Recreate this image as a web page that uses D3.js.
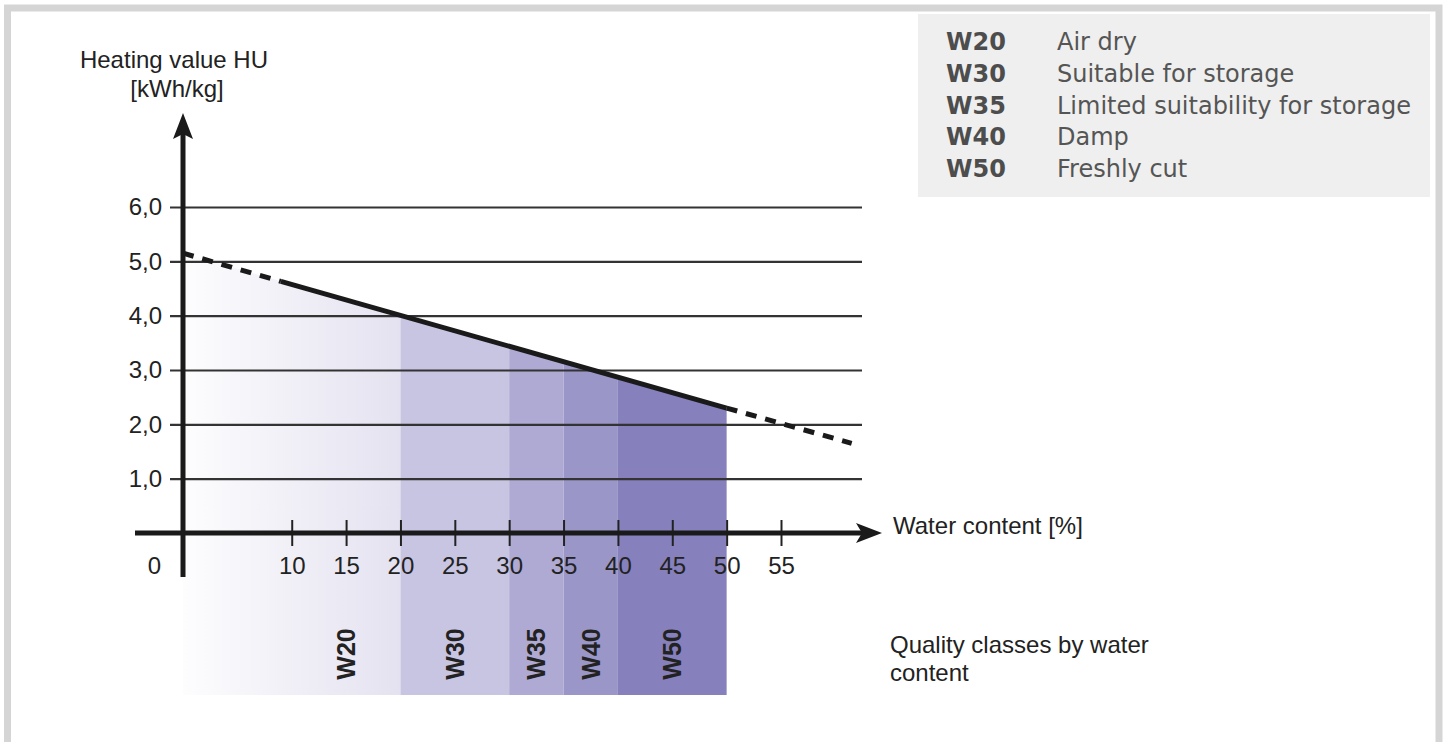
<!DOCTYPE html>
<html>
<head>
<meta charset="utf-8">
<script src="https://cdn.jsdelivr.net/npm/d3@7"></script>
<style>
  html, body { margin: 0; padding: 0; background: #fff; }
  svg { display: block; }
  .sans { font-family: "Liberation Sans", Arial, sans-serif; }
  .verd { font-family: "DejaVu Sans", Verdana, sans-serif; }
</style>
</head>
<body>
<svg id="chart" width="1447" height="742"></svg>
<script>
// quality classes by water content
const classNames = ["W20", "W30", "W35", "W40", "W50"];
const classFrom = [0, 20, 30, 35, 40];
const classTo = [20, 30, 35, 40, 50];
const classLabelAt = [15, 25, 32.5, 37.5, 45];
const classDesc = ["Air dry", "Suitable for storage", "Limited suitability for storage", "Damp", "Freshly cut"];

// heating value curve (water content % -> kWh/kg)
const curveWater = [0, 9, 50, 61.5];
const curveHeat = [5.15, 4.63, 2.3, 1.65];
const curveDashed = [true, false, true]; // per segment

const yTicks = [1, 2, 3, 4, 5, 6];
const xTicks = [0, 10, 15, 20, 25, 30, 35, 40, 45, 50, 55];

const classColors = ["#e4e2f0", "#c8c5e2", "#afaad3", "#9b96c8", "#8680bc"];

const svg = d3.select("#chart");

// frame
svg.append("path")
    .attr("d", "M7.5,742 V8 H1439 V742")
    .attr("fill", "none")
    .attr("stroke", "#d5d5d5")
    .attr("stroke-width", 7);

const x = d3.scaleLinear().domain([0, 55]).range([183, 781]);
const y = d3.scaleLinear().domain([0, 6]).range([533, 207]);
const heatAt = d3.scaleLinear().domain(curveWater).range(curveHeat);
const bandBottom = 695;

// gradient for W20
const defs = svg.append("defs");
const grad = defs.append("linearGradient").attr("id", "w20grad")
    .attr("x1", "0%").attr("x2", "100%").attr("y1", "0%").attr("y2", "0%");
grad.append("stop").attr("offset", "0%").attr("stop-color", "#fdfdfe");
grad.append("stop").attr("offset", "100%").attr("stop-color", classColors[0]);

// bands
svg.append("g").selectAll("path")
    .data(classNames)
    .join("path")
    .attr("d", (d, i) => {
        const a = classFrom[i], b = classTo[i];
        return `M${x(a)},${bandBottom} L${x(a)},${y(heatAt(a))} L${x(b)},${y(heatAt(b))} L${x(b)},${bandBottom} Z`;
    })
    .attr("fill", (d, i) => i === 0 ? "url(#w20grad)" : classColors[i]);

// band labels
svg.append("g").selectAll("text")
    .data(classNames)
    .join("text")
    .attr("class", "sans")
    .attr("transform", (d, i) => `translate(${x(classLabelAt[i]) + 9},654) rotate(-90)`)
    .attr("text-anchor", "middle")
    .attr("font-size", 25)
    .attr("font-weight", "bold")
    .attr("fill", "#222")
    .text(d => d);

// y grid + labels
const yAxis = svg.append("g")
    .attr("class", "sans")
    .attr("transform", "translate(170,0)")
    .call(d3.axisLeft(y).tickValues(yTicks).tickSize(-692).tickPadding(8)
        .tickFormat(d => d3.format(".1f")(d).replace(".", ",")));
yAxis.select(".domain").remove();
yAxis.selectAll("line").attr("stroke", "#333").attr("stroke-width", 2.2);
yAxis.selectAll("text").attr("font-size", 24).attr("fill", "#222");

// heating value line
const segs = d3.range(curveWater.length - 1).map(i => ({
    p: [[curveWater[i], curveHeat[i]], [curveWater[i + 1], curveHeat[i + 1]]],
    dashed: curveDashed[i]
}));
const line = d3.line().x(d => x(d[0])).y(d => y(d[1]));
svg.append("g").selectAll("path")
    .data(segs)
    .join("path")
    .attr("d", d => line(d.p))
    .attr("fill", "none")
    .attr("stroke", "#1a1a1a")
    .attr("stroke-width", 5)
    .attr("stroke-dasharray", d => d.dashed ? "11,9" : null);

// x axis
const xAxis = svg.append("g")
    .attr("class", "sans")
    .attr("transform", `translate(0,${y(0)})`)
    .call(d3.axisBottom(x).tickValues(xTicks).tickSize(13).tickPadding(11));
xAxis.select(".domain").remove();
xAxis.selectAll("line").attr("y1", -13).attr("stroke", "#222").attr("stroke-width", 2);
xAxis.selectAll("text").attr("font-size", 24).attr("fill", "#222");
xAxis.selectAll(".tick").filter(d => d === 0).each(function () {
    d3.select(this).select("line").remove();
    d3.select(this).select("text").attr("x", -29);
});

// axis lines with arrows
svg.append("line")
    .attr("x1", 135).attr("x2", 866).attr("y1", y(0)).attr("y2", y(0))
    .attr("stroke", "#1a1a1a").attr("stroke-width", 5);
svg.append("path")
    .attr("d", `M882,${y(0)} L856,${y(0) - 10} L862,${y(0)} L856,${y(0) + 10} Z`)
    .attr("fill", "#1a1a1a");
svg.append("line")
    .attr("x1", x(0)).attr("x2", x(0)).attr("y1", 577).attr("y2", 130)
    .attr("stroke", "#1a1a1a").attr("stroke-width", 5);
svg.append("path")
    .attr("d", `M${x(0)},113 L${x(0) - 10},139 L${x(0)},134 L${x(0) + 10},139 Z`)
    .attr("fill", "#1a1a1a");

// axis titles
const titles = svg.append("g").attr("class", "sans").attr("font-size", 24).attr("fill", "#222");
titles.append("text").attr("x", 174).attr("y", 68).attr("text-anchor", "middle").text("Heating value HU");
titles.append("text").attr("x", 177).attr("y", 97).attr("text-anchor", "middle").text("[kWh/kg]");
titles.append("text").attr("x", 893).attr("y", 534).text("Water content [%]");
titles.append("text").attr("x", 890).attr("y", 653).text("Quality classes by water");
titles.append("text").attr("x", 890).attr("y", 681).text("content");

// legend box
const legend = svg.append("g").attr("class", "verd");
legend.append("rect")
    .attr("x", 918).attr("y", 14).attr("width", 512).attr("height", 183)
    .attr("fill", "#eeefee");
const rows = legend.selectAll("g.row")
    .data(classNames)
    .join("g")
    .attr("class", "row")
    .attr("transform", (d, i) => `translate(0,${50 + i * 31.8})`);
rows.append("text")
    .attr("x", 946)
    .attr("font-size", 24)
    .attr("font-weight", "bold")
    .attr("fill", "#4d4d4d")
    .text(d => d);
rows.append("text")
    .attr("x", 1057)
    .attr("font-size", 24)
    .attr("fill", "#555")
    .text((d, i) => classDesc[i]);
</script>
</body>
</html>
